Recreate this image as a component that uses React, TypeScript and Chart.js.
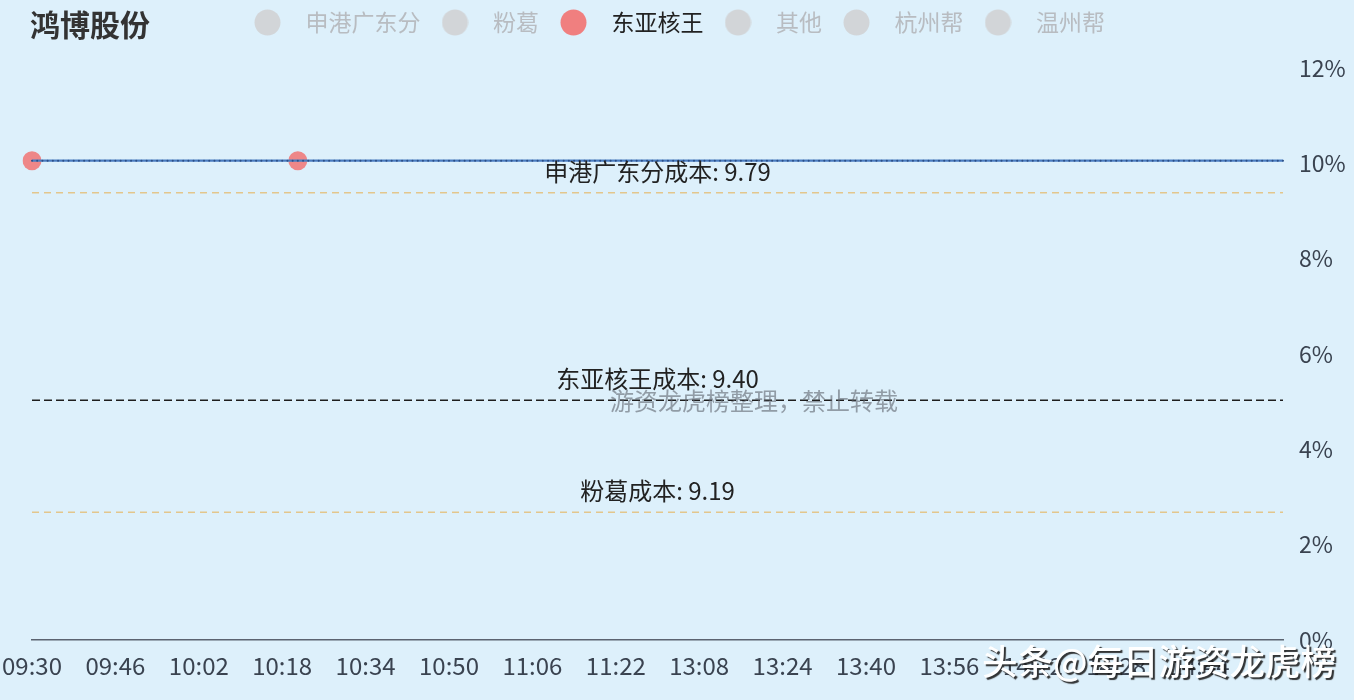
import React, { useEffect, useRef } from 'react';
import { Chart, registerables } from 'chart.js';

Chart.register(...registerables);

const FONT = '"Noto Sans CJK SC", "Noto Sans", sans-serif';

const stockName = '鸿博股份';
const prevClose = 8.95;
const legendNames = ['申港广东分', '粉葛', '东亚核王', '其他', '杭州帮', '温州帮'];
const activeSeat = '东亚核王';
const costSeats = ['申港广东分', '东亚核王', '粉葛'];
const costPrices = [9.79, 9.4, 9.19];
const costColors = ['#e3c68c', '#1e1e1e', '#e3c68c'];
const buyTimes = ['09:30', '10:21'];
const buyPrices = [9.85, 9.85];
const limitUpPrice = 9.85; // price sits flat at limit-up the whole session
const tickLabels = [
  '09:30', '09:46', '10:02', '10:18', '10:34', '10:50', '11:06', '11:22',
  '13:08', '13:24', '13:40', '13:56', '14:12', '14:28', '14:44',
];
const yTicks = [0, 2, 4, 6, 8, 10, 12];
const watermarkCenter = '游资龙虎榜整理，禁止转载';
const watermarkCorner = '头条@每日游资龙虎榜';

function buildTimes(): string[] {
  const out: string[] = [];
  const fmt = (t: number) =>
    `${String(Math.floor(t / 60)).padStart(2, '0')}:${String(t % 60).padStart(2, '0')}`;
  for (let t = 9 * 60 + 30; t <= 11 * 60 + 30; t++) out.push(fmt(t));
  for (let t = 13 * 60 + 1; t <= 15 * 60; t++) out.push(fmt(t));
  return out;
}

const times = buildTimes();
const minutePrices = times.map(() => limitUpPrice);
const pct = (p: number) => (p / prevClose - 1) * 100;

function makeDot(color: string): HTMLCanvasElement {
  const c = document.createElement('canvas');
  c.width = 27;
  c.height = 27;
  const ctx = c.getContext('2d')!;
  ctx.fillStyle = color;
  ctx.beginPath();
  ctx.arc(13.5, 13.5, 13, 0, Math.PI * 2);
  ctx.fill();
  return c;
}

export default function App() {
  const ref = useRef<HTMLCanvasElement>(null);

  useEffect(() => {
    if (!ref.current) return;
    const activeDot = makeDot('#f07f7f');
    const idleDot = makeDot('#d2d5d8');

    const legendGap = {
      id: 'legendGap',
      beforeInit(chart: any) {
        const lg = chart.legend;
        if (!lg) return;
        const orig = lg.fit;
        lg.fit = function () {
          orig.call(lg);
          lg.height += 24;
        };
      },
    };

    const background = {
      id: 'bg',
      beforeDraw(chart: any) {
        const { ctx, width, height } = chart;
        ctx.save();
        ctx.fillStyle = '#ddf0fb';
        ctx.fillRect(0, 0, width, height);
        ctx.restore();
      },
    };

    const decorations = {
      id: 'decor',
      afterDatasetsDraw(chart: any) {
        const { ctx, chartArea, scales } = chart;
        ctx.save();
        ctx.font = `24px ${FONT}`;
        ctx.fillStyle = '#222';
        ctx.textAlign = 'center';
        ctx.textBaseline = 'middle';
        const cx = (chartArea.left + chartArea.right) / 2;
        costSeats.forEach((s, i) => {
          const y = scales.y.getPixelForValue(pct(costPrices[i]));
          ctx.fillText(`${s}成本: ${costPrices[i].toFixed(2)}`, cx, y - 21);
        });
        ctx.restore();
      },
      afterDraw(chart: any) {
        const { ctx } = chart;
        ctx.save();
        // title
        ctx.font = `bold 30px ${FONT}`;
        ctx.fillStyle = '#333';
        ctx.textAlign = 'left';
        ctx.textBaseline = 'middle';
        ctx.fillText(stockName, 30, 25);
        // centre watermark
        ctx.font = `24px ${FONT}`;
        ctx.fillStyle = 'rgba(95,100,110,0.6)';
        ctx.textAlign = 'center';
        ctx.fillText(watermarkCenter, 754, 401);
        // corner watermark
        ctx.font = `500 35.5px ${FONT}`;
        ctx.textAlign = 'left';
        ctx.shadowColor = 'rgba(30,30,30,0.9)';
        ctx.shadowOffsetX = 2;
        ctx.shadowOffsetY = 2;
        ctx.shadowBlur = 1;
        ctx.fillStyle = '#ffffff';
        ctx.fillText(watermarkCorner, 982, 662);
        ctx.restore();
      },
    };

    const datasets: any[] = [
      {
        type: 'line',
        label: 'price',
        data: minutePrices.map((p) => pct(p)),
        borderColor: '#4a7cc0',
        borderWidth: 2.2,
        pointRadius: 1,
        pointBackgroundColor: '#2c4f86',
        pointBorderWidth: 0,
        pointHoverRadius: 0,
        tension: 0,
      },
      {
        type: 'line',
        label: activeSeat,
        data: buyTimes.map((t, i) => ({ x: t, y: pct(buyPrices[i]) })),
        showLine: false,
        pointRadius: 9.5,
        pointBackgroundColor: 'rgba(240,120,120,0.88)',
        pointBorderWidth: 0,
      },
      ...costSeats.map((s, i) => ({
        type: 'line',
        label: `${s}成本`,
        data: [
          { x: times[0], y: pct(costPrices[i]) },
          { x: times[times.length - 1], y: pct(costPrices[i]) },
        ],
        borderColor: costColors[i],
        borderWidth: 1.5,
        borderDash: i === 1 ? [8, 4] : [7, 5],
        pointRadius: 0,
      })),
    ];

    const chart = new Chart(ref.current, {
      type: 'line',
      data: { labels: times, datasets },
      plugins: [legendGap, background, decorations],
      options: {
        animation: false,
        responsive: false,
        maintainAspectRatio: false,
        events: [],
        layout: { padding: { left: -8, right: 0, top: 3, bottom: 0 } },
        plugins: {
          tooltip: { enabled: false },
          legend: {
            display: true,
            position: 'top',
            onClick: () => {},
            labels: {
              usePointStyle: true,
              pointStyleWidth: 53,
              padding: 8,
              font: { family: FONT, size: 23 },
              generateLabels: () =>
                legendNames.map((n, i) => ({
                  text: n,
                  fillStyle: n === activeSeat ? '#f07f7f' : '#d2d5d8',
                  strokeStyle: 'transparent',
                  lineWidth: 0,
                  fontColor: n === activeSeat ? '#222' : '#b8bcc1',
                  pointStyle: n === activeSeat ? activeDot : idleDot,
                  hidden: false,
                  datasetIndex: i,
                })),
            },
          },
        },
        scales: {
          x: {
            type: 'category',
            offset: false,
            grid: { display: false, drawTicks: false },
            border: { display: true, color: '#5b6370', width: 1.5 },
            afterFit(scale: any) {
              scale.height = 60;
              scale.paddingLeft = 32;
              scale.paddingRight = 0;
            },
            ticks: {
              autoSkip: false,
              maxRotation: 0,
              minRotation: 0,
              padding: 11,
              color: '#3a4350',
              font: { family: FONT, size: 24 },
              callback(this: any, value: any) {
                const lbl = this.getLabelForValue(value);
                return tickLabels.includes(lbl) ? lbl : '';
              },
            },
          },
          y: {
            position: 'right',
            min: yTicks[0],
            max: yTicks[yTicks.length - 1],
            grid: { display: false, drawTicks: false },
            border: { display: false },
            afterFit(scale: any) {
              scale.width = 71;
            },
            afterBuildTicks(scale: any) {
              scale.ticks = yTicks.map((v) => ({ value: v }));
            },
            ticks: {
              padding: 16,
              color: '#3a4350',
              font: { family: FONT, size: 23 },
              callback: (v: any) => `${v}%`,
            },
          },
        },
      },
    });
    return () => chart.destroy();
  }, []);

  return (
    <div style={{ position: 'fixed', inset: 0, background: '#ddf0fb' }}>
      <canvas
        ref={ref}
        width={1354}
        height={700}
        style={{ position: 'absolute', left: 0, top: 0, width: 1354, height: 700 }}
      />
    </div>
  );
}
